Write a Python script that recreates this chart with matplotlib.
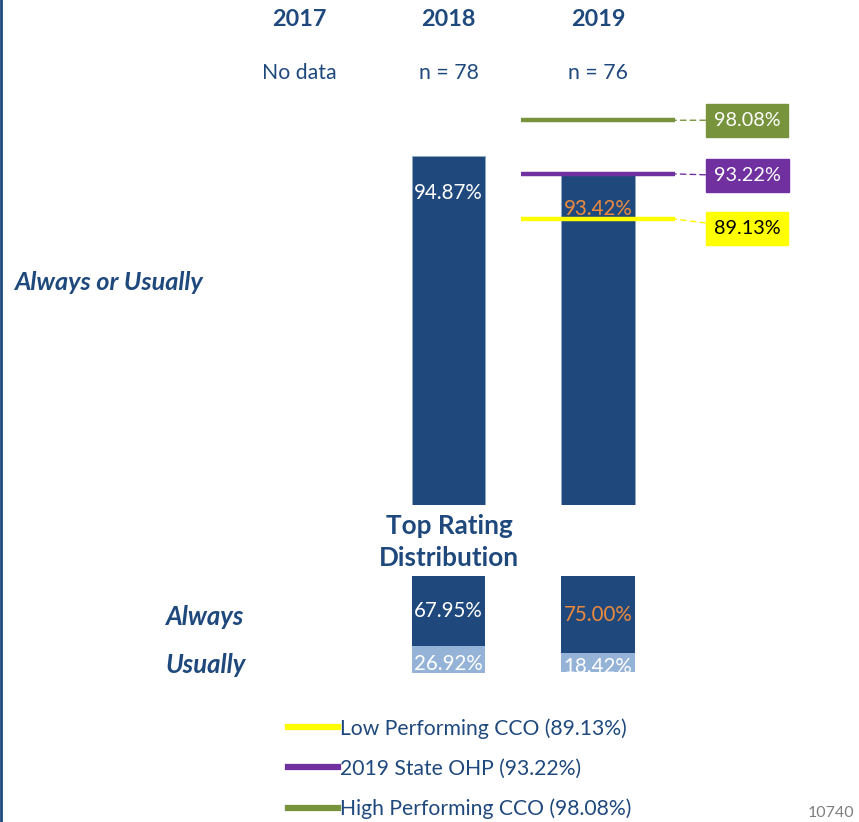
import numpy as np
import matplotlib.pyplot as plt
from matplotlib.lines import Line2D

plt.rcParams['font.family'] = ['Lato', 'DejaVu Sans']

# data
years = ['2017', '2018', '2019']
n_labels = ['No data', 'n = 78', 'n = 76']
always_or_usually = [np.nan, 94.87, 93.42]
always = [np.nan, 67.95, 75.00]
usually = [np.nan, 26.92, 18.42]
value_colors = ['white', 'white', '#EE8A3C']

bench_names = ['Low Performing CCO', '2019 State OHP', 'High Performing CCO']
bench_values = [89.13, 93.22, 98.08]
bench_colors = ['#FFFF00', '#7030A0', '#77933C']
bench_text = ['black', 'white', 'white']
bench_drop = [9, 2, 0]  # label box nudged down (px)

navy = '#1F497D'
light = '#95B3D7'
W, H = 859, 822

fig = plt.figure(figsize=(W / 100, H / 100), dpi=100)
xlim = (-299 / 149.5, (W - 299) / 149.5)
x = np.arange(len(years))
bw = 0.49

# main bars
ax = fig.add_axes([0, (H - 505) / H, 1, 505 / H])
ax.set_xlim(*xlim)
ax.set_ylim(63.26, 63.26 + 505 / 11.05)
ax.axis('off')
ax.bar(x, always_or_usually, width=bw, color=navy, edgecolor='#8EA9C8', linewidth=0.6)
for i, v in enumerate(always_or_usually):
    if not np.isnan(v):
        ax.annotate(f'{v:.2f}%', (x[i], v), xytext=(0, -27), textcoords='offset points',
                    ha='center', va='center', fontsize=14.8, color=value_colors[i])

# benchmark lines with labels
for v, c, tc, d in zip(bench_values, bench_colors, bench_text, bench_drop):
    ax.hlines(v, 2 - 0.515, 2 + 0.515, color=c, lw=3.2)
    ax.annotate(f'{v:.2f}%', xy=(2 + 0.515, v), xytext=(52, -d * 0.72), textcoords='offset points',
                ha='center', va='center', fontsize=14.3, color=tc,
                bbox=dict(boxstyle='square,pad=0.4', fc=c, ec=c),
                arrowprops=dict(arrowstyle='-', linestyle=(0, (4, 3)), color=c, lw=1,
                                shrinkA=0, shrinkB=0))

# year headers
for i in x:
    ax.text(i, 1 - 20 / 505, years[i], transform=ax.get_xaxis_transform(),
            ha='center', va='center', fontsize=16.8, fontweight='bold', color=navy)
    ax.text(i, 1 - 73 / 505, n_labels[i], transform=ax.get_xaxis_transform(),
            ha='center', va='center', fontsize=15.3, color=navy)

# top rating distribution
ax2 = fig.add_axes([0, (H - 673) / H, 1, 97 / H])
ax2.set_xlim(*xlim)
ax2.set_ylim(97 / 1.03, 0)
ax2.axis('off')
ax2.bar(x, always, width=bw, color=navy)
ax2.bar(x, usually, width=bw, bottom=always, color=light)
for i in x:
    if np.isnan(always[i]):
        continue
    ax2.text(x[i], always[i] / 2, f'{always[i]:.2f}%', ha='center', va='center',
             fontsize=14.8, color=value_colors[i])
    t = ax2.text(x[i], always[i] + usually[i] / 2 + 4, f'{usually[i]:.2f}%', ha='center',
                 va='center', fontsize=14.8, color='white')
    t.set_clip_on(True)

fig.text(14 / W, 1 - 282 / H, 'Always or Usually', ha='left', va='center', fontsize=18.2,
         fontweight='bold', fontstyle='italic', color=navy)
fig.text(449 / W, 1 - 542 / H, 'Top Rating\nDistribution', ha='center', va='center',
         fontsize=18.8, fontweight='bold', color=navy, linespacing=1.35)
fig.text(243 / W, 1 - 617 / H, 'Always', ha='right', va='center', fontsize=18.5,
         fontweight='bold', fontstyle='italic', color=navy)
fig.text(246 / W, 1 - 665 / H, 'Usually', ha='right', va='center', fontsize=18.5,
         fontweight='bold', fontstyle='italic', color=navy)

# legend
handles = [Line2D([], [], color=c, lw=4.5) for c in bench_colors]
labels = [f'{n} ({v:.2f}%)' for n, v in zip(bench_names, bench_values)]
leg = fig.legend(handles, labels, loc='upper left', bbox_to_anchor=(288 / W, 1 - 718 / H),
                 frameon=False, fontsize=15.2, handlelength=2.35, handletextpad=0.12,
                 labelspacing=0.95, borderpad=0, borderaxespad=0)
for t in leg.get_texts():
    t.set_color(navy)

fig.add_artist(Line2D([0.0012, 0.0012], [0, 1], color=navy, lw=2, transform=fig.transFigure))
fig.text(808 / W, 1 - 806 / H, '10740', ha='left', va='top', fontsize=11.5, color='#7F7F7F')

fig.savefig('out.png', dpi=100)
